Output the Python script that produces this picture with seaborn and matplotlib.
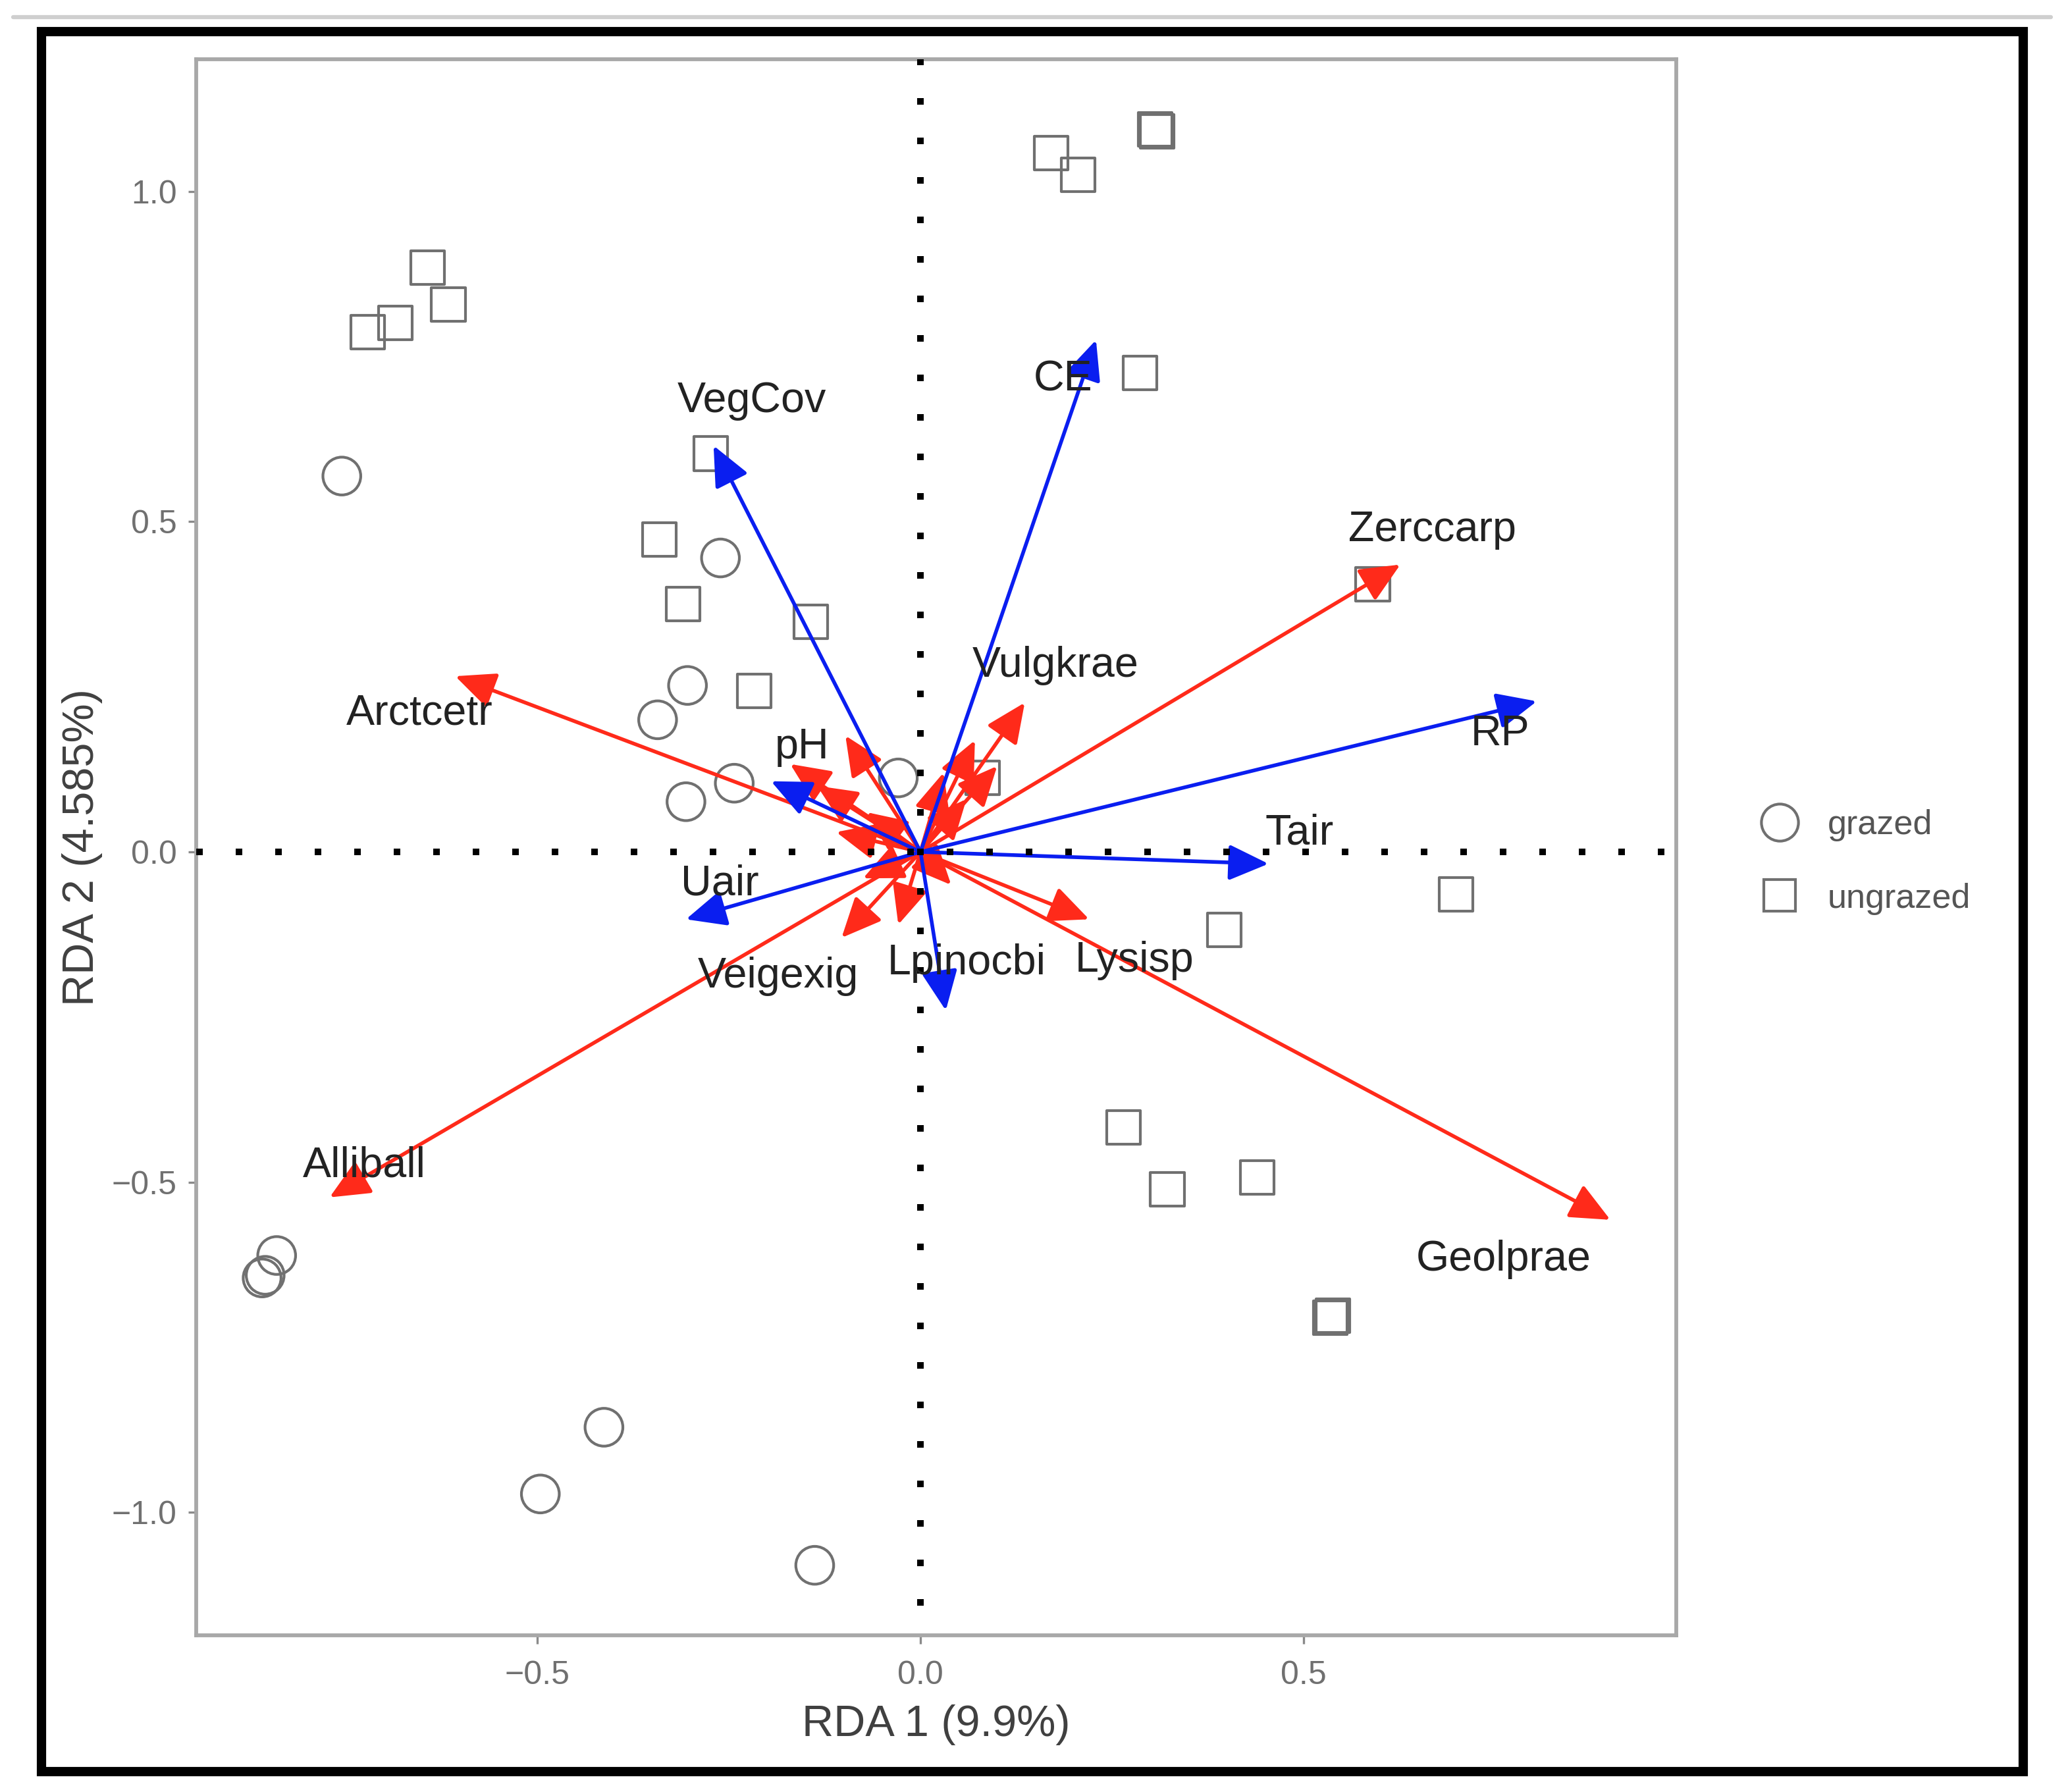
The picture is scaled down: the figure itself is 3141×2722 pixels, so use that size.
import matplotlib
matplotlib.use("Agg")
import matplotlib.pyplot as plt
from matplotlib.lines import Line2D
from matplotlib.patches import Rectangle
import seaborn as sns

# site scores
grazed_x = [-0.755, -0.261, -0.304, -0.343, -0.243, -0.306, -0.029, -0.840, -0.859, -0.855, -0.413, -0.496, -0.138]
grazed_y = [0.569, 0.445, 0.252, 0.200, 0.104, 0.076, 0.112, -0.611, -0.645, -0.641, -0.871, -0.972, -1.080]
ungrazed_x = [0.170, 0.206, 0.306, 0.309, 0.286, -0.643, -0.616, -0.685, -0.721, -0.274, -0.341, -0.310,
              -0.143, -0.217, 0.590, 0.081, 0.699, 0.396, 0.265, 0.322, 0.439, 0.535, 0.538]
ungrazed_y = [1.058, 1.025, 1.094, 1.091, 0.725, 0.885, 0.829, 0.801, 0.787, 0.603, 0.473, 0.375,
              0.348, 0.244, 0.405, 0.112, -0.064, -0.118, -0.417, -0.511, -0.493, -0.705, -0.702]

# environmental vectors (blue)
env_names = ["VegCov", "CE", "RP", "Tair", "Uair", "pH", ""]
env_x = [-0.270, 0.229, 0.804, 0.454, -0.306, -0.195, 0.033]
env_y = [0.615, 0.775, 0.228, -0.018, -0.102, 0.107, -0.240]
env_lab_x = [-0.220, 0.186, 0.756, 0.494, -0.262, -0.155, 0.0]
env_lab_y = [0.683, 0.715, 0.178, 0.028, -0.048, 0.158, 0.0]

# species vectors (red)
spp_names = ["Arctcetr", "Zerccarp", "Vulgkrae", "Geolprae", "Alliball", "Lysisp", "Veigexig", "Lpinocbi",
             "", "", "", "", "", "", "", "", "", "", ""]
spp_x = [-0.607, 0.626, 0.136, 0.900, -0.771, 0.220, -0.103, -0.029,
         -0.098, -0.170, -0.135, -0.070, 0.071, 0.100, 0.060, -0.075, -0.110, 0.040, 0.030]
spp_y = [0.266, 0.435, 0.226, -0.557, -0.523, -0.102, -0.130, -0.110,
         0.176, 0.133, 0.100, 0.060, 0.169, 0.130, 0.080, -0.040, 0.030, -0.050, 0.120]
spp_lab_x = [-0.654, 0.668, 0.176, 0.761, -0.726, 0.279, -0.186, 0.060]
spp_lab_y = [0.210, 0.487, 0.282, -0.617, -0.475, -0.164, -0.188, -0.168]

sns.set_style("white")
plt.rcParams["font.family"] = ["Liberation Sans", "DejaVu Sans"]

fig = plt.figure(figsize=(3141 / 300, 2722 / 300), dpi=300)
ax = fig.add_axes([298 / 3141, 1 - 2484 / 2722, 2248 / 3141, 2394 / 2722])

edge = "#707070"
sns.scatterplot(x=grazed_x, y=grazed_y, marker="o", s=190, facecolor="none",
                edgecolor=edge, linewidth=1.0, ax=ax, zorder=2)
sns.scatterplot(x=ungrazed_x, y=ungrazed_y, marker="s", s=150, facecolor="none",
                edgecolor=edge, linewidth=1.0, ax=ax, zorder=2)

arrow_kw = dict(arrowstyle="-|>,head_length=0.62,head_width=0.28", lw=1.35,
                shrinkA=0, shrinkB=0, mutation_scale=20)
for x, y in zip(spp_x, spp_y):
    ax.annotate("", xy=(x, y), xytext=(0, 0),
                arrowprops=dict(color="#ff2a1a", **arrow_kw), zorder=3)
for x, y in zip(env_x, env_y):
    ax.annotate("", xy=(x, y), xytext=(0, 0),
                arrowprops=dict(color="#0a1ef0", **arrow_kw), zorder=3)

ax.axhline(0, color="black", lw=2.4, linestyle=(0, (1, 5)), zorder=4)
ax.axvline(0, color="black", lw=2.4, linestyle=(1.5, (1, 5)), zorder=4)

lab_color = "#222222"
for name, x, y in zip(spp_names, spp_lab_x, spp_lab_y):
    ax.text(x, y, name, ha="center", va="center", fontsize=15.5, color=lab_color, zorder=5)
for name, x, y in zip(env_names, env_lab_x, env_lab_y):
    if name:
        ax.text(x, y, name, ha="center", va="center", fontsize=15.5, color=lab_color, zorder=5)

ax.set_xlim(-0.945, 0.986)
ax.set_ylim(-1.186, 1.200)
ax.set_xticks([-0.5, 0.0, 0.5])
ax.set_yticks([-1.0, -0.5, 0.0, 0.5, 1.0])
ax.tick_params(axis="both", length=3, width=0.8, color="#8a8a8a", labelcolor="#707070",
               labelsize=12, bottom=True, left=True)
ax.tick_params(axis="x", pad=6)
ax.tick_params(axis="y", pad=4)
for sp in ax.spines.values():
    sp.set_color("#a8a8a8")
    sp.set_linewidth(1.4)

ax.set_xlabel("RDA 1 (9.9%)", fontsize=16, color="#404040")
ax.set_ylabel("RDA 2 (4.585%)", fontsize=16, color="#404040")
ax.xaxis.set_label_coords(0.5, -0.044)
ax.yaxis.set_label_coords(-0.063, 0.5)

handles = [
    Line2D([], [], marker="o", linestyle="none", markersize=13.5, markerfacecolor="none",
           markeredgecolor=edge, markeredgewidth=1.0),
    Line2D([], [], marker="s", linestyle="none", markersize=11.5, markerfacecolor="none",
           markeredgecolor=edge, markeredgewidth=1.0),
]
fig.legend(handles, ["grazed", "ungrazed"], loc="center left", bbox_to_anchor=(0.829, 0.519),
           frameon=False, fontsize=12.5, labelspacing=1.2, handletextpad=0.4,
           labelcolor="#555555")

# outer frame and top rule
fig.add_artist(Rectangle((63 / 3141, 1 - 2691 / 2722), 3010 / 3141, 2643 / 2722,
                         transform=fig.transFigure, fill=False, edgecolor="black", lw=3.4))
fig.add_artist(Line2D([20 / 3141, 3115 / 3141], [1 - 26 / 2722, 1 - 26 / 2722],
                      transform=fig.transFigure, color="#cfcfcf", lw=1.5))

fig.savefig("out.png", dpi=300)
